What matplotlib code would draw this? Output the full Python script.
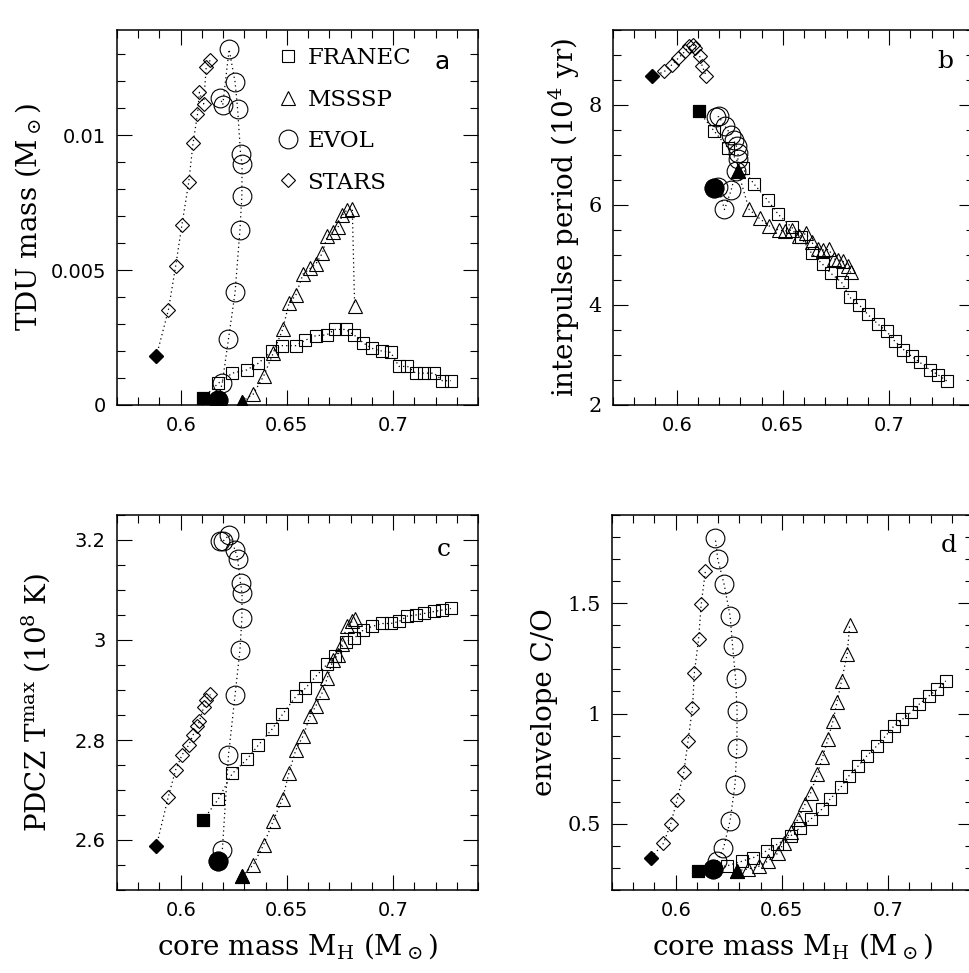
import matplotlib
matplotlib.use('Agg')
from matplotlib import pyplot as plt
from matplotlib.ticker import MultipleLocator, FormatStrFormatter
from matplotlib.lines import Line2D

plt.rcParams['mathtext.fontset'] = 'dejavuserif'

# core mass of each pulse (Msun), one array per code
franec_mc = [0.6105, 0.6176, 0.6243, 0.6311, 0.6366, 0.6429, 0.6479, 0.6542, 0.6586,
             0.6636, 0.6688, 0.6727, 0.6777, 0.6816, 0.6860, 0.6900, 0.6947, 0.6989,
             0.7028, 0.7068, 0.7107, 0.7146, 0.7193, 0.7232, 0.7272]
msssp_mc = [0.6288, 0.6341, 0.6390, 0.6436, 0.6480, 0.6510, 0.6542, 0.6576, 0.6609,
            0.6636, 0.6667, 0.6691, 0.6717, 0.6741, 0.6760, 0.6781, 0.6808, 0.6819]
evol_mc = [0.6177, 0.6196, 0.6225, 0.6256, 0.6279, 0.6288, 0.6289, 0.6282, 0.6268,
           0.6256, 0.6228, 0.6198, 0.6186]
stars_mc = [0.5885, 0.5942, 0.5976, 0.6006, 0.6038, 0.6058, 0.6079, 0.6088, 0.6108,
            0.6120, 0.6140]

# a: TDU mass (Msun)
franec_tdu = [0.00025, 0.0008, 0.00118, 0.0013, 0.00155, 0.0020, 0.0022, 0.0022, 0.0024,
              0.00257, 0.0026, 0.0028, 0.0028, 0.0026, 0.0023, 0.0021, 0.0020, 0.00195,
              0.00143, 0.00143, 0.00118, 0.00118, 0.00118, 0.0009, 0.0009]
msssp_tdu = [0.00012, 0.0004, 0.00106, 0.00193, 0.0028, 0.00377, 0.00407, 0.00485, 0.00506,
             0.00522, 0.00563, 0.00628, 0.0064, 0.00659, 0.00703, 0.00721, 0.00728, 0.00367]
evol_tdu = [0.0002, 0.00083, 0.00245, 0.00417, 0.00649, 0.00775, 0.00893, 0.00929, 0.01097,
            0.01197, 0.01318, 0.01113, 0.01138]
stars_tdu = [0.0018, 0.00352, 0.00514, 0.00669, 0.00827, 0.0097, 0.01078, 0.01159, 0.01116,
             0.01252, 0.0128]

# b: interpulse period (1e4 yr)
franec_ip = [7.87, 7.48, 7.13, 6.73, 6.41, 6.09, 5.81, 5.55, 5.35, 5.03, 4.81, 4.63, 4.45,
             4.15, 4.00, 3.81, 3.62, 3.47, 3.27, 3.11, 2.97, 2.85, 2.70, 2.60, 2.48]
msssp_ip = [6.68, 5.91, 5.73, 5.58, 5.50, 5.48, 5.50, 5.37, 5.43, 5.25, 5.12, 5.10, 5.11,
            4.92, 4.90, 4.88, 4.78, 4.65]
evol_ip = [6.33, 6.35, 5.91, 6.29, 6.67, 6.91, 7.03, 7.17, 7.30, 7.40, 7.57, 7.77, 7.75]
stars_ip = [8.57, 8.67, 8.80, 8.93, 9.07, 9.17, 9.20, 9.13, 8.98, 8.78, 8.57]

# c: PDCZ Tmax (1e8 K)
franec_tmax = [2.640, 2.681, 2.733, 2.761, 2.790, 2.821, 2.851, 2.887, 2.903, 2.927, 2.951,
               2.967, 2.997, 3.003, 3.020, 3.027, 3.033, 3.033, 3.037, 3.048, 3.050, 3.053,
               3.057, 3.060, 3.063]
msssp_tmax = [2.527, 2.550, 2.590, 2.639, 2.683, 2.735, 2.780, 2.808, 2.847, 2.868, 2.895,
              2.925, 2.960, 2.970, 2.993, 3.027, 3.037, 3.041]
evol_tmax = [2.557, 2.580, 2.770, 2.890, 2.980, 3.043, 3.093, 3.113, 3.163, 3.180, 3.210,
             3.197, 3.199]
stars_tmax = [2.587, 2.687, 2.740, 2.770, 2.790, 2.810, 2.827, 2.838, 2.865, 2.880, 2.891]

# d: envelope C/O
franec_co = [0.287, 0.300, 0.310, 0.330, 0.347, 0.378, 0.408, 0.446, 0.483, 0.521, 0.566,
             0.612, 0.665, 0.718, 0.763, 0.808, 0.853, 0.899, 0.944, 0.974, 1.005, 1.042,
             1.080, 1.110, 1.148]
msssp_co = [0.287, 0.295, 0.307, 0.332, 0.366, 0.415, 0.465, 0.523, 0.589, 0.642, 0.725,
            0.801, 0.884, 0.967, 1.054, 1.148, 1.272, 1.400]
evol_co = [0.295, 0.332, 0.390, 0.514, 0.675, 0.846, 1.012, 1.159, 1.304, 1.443, 1.586,
           1.699, 1.798]
stars_co = [0.347, 0.411, 0.498, 0.607, 0.733, 0.876, 1.027, 1.186, 1.340, 1.495, 1.647]

codes = ['FRANEC', 'MSSSP', 'EVOL', 'STARS']
markers = {'FRANEC': ('s', 8.5), 'MSSSP': ('^', 10), 'EVOL': ('o', 13.5), 'STARS': ('D', 7.5)}
core = {'FRANEC': franec_mc, 'MSSSP': msssp_mc, 'EVOL': evol_mc, 'STARS': stars_mc}

panels = [
    ('a', {'FRANEC': franec_tdu, 'MSSSP': msssp_tdu, 'EVOL': evol_tdu, 'STARS': stars_tdu},
     (0, 0.0139), 0.005, 0.001, r'TDU mass (M$_\odot$)', -0.205),
    ('b', {'FRANEC': franec_ip, 'MSSSP': msssp_ip, 'EVOL': evol_ip, 'STARS': stars_ip},
     (2, 9.5), 2, 0.5, r'interpulse period (10$^4$ yr)', -0.085),
    ('c', {'FRANEC': franec_tmax, 'MSSSP': msssp_tmax, 'EVOL': evol_tmax, 'STARS': stars_tmax},
     (2.5, 3.25), 0.2, 0.05, r'PDCZ T$^{\mathrm{max}}$ (10$^8$ K)', -0.18),
    ('d', {'FRANEC': franec_co, 'MSSSP': msssp_co, 'EVOL': evol_co, 'STARS': stars_co},
     (0.2, 1.9), 0.5, 0.1, 'envelope C/O', -0.15),
]

W, H = 969, 973
fig = plt.figure(figsize=(W / 100, H / 100), dpi=100)
boxes = {'a': (117, 30), 'b': (613, 30), 'c': (117, 515), 'd': (612, 515)}
aw, ah = 361, 375

for letter, ydata, ylim, major, minor, ylabel, labx in panels:
    x0, y0 = boxes[letter]
    ax = fig.add_axes([x0 / W, 1 - (y0 + ah) / H, aw / W, ah / H])

    for code in codes:
        m, ms = markers[code]
        ax.plot(core[code], ydata[code], ls=(0, (1, 2.5)), lw=0.9, color='black',
                marker=m, ms=ms, mfc='none', mec='black', mew=0.8)
        # first pulse drawn filled
        ax.plot(core[code][0], ydata[code][0], ls='none', marker=m, ms=ms,
                mfc='black', mec='black', mew=0.8)

    ax.set_xlim(0.57, 0.74)
    ax.set_ylim(*ylim)
    ax.xaxis.set_major_locator(MultipleLocator(0.05))
    ax.xaxis.set_minor_locator(MultipleLocator(0.01))
    ax.yaxis.set_major_locator(MultipleLocator(major))
    ax.yaxis.set_minor_locator(MultipleLocator(minor))
    ax.xaxis.set_major_formatter(FormatStrFormatter('%g'))
    ax.yaxis.set_major_formatter(FormatStrFormatter('%g'))
    ax.tick_params(which='both', direction='in', top=True, right=True, width=0.8)
    ax.tick_params(which='major', length=11, pad=8)
    ax.tick_params(which='minor', length=5.5)
    for lab in ax.get_xticklabels():
        lab.set_fontfamily('DejaVu Sans')
        lab.set_fontsize(14)
    for lab in ax.get_yticklabels():
        if letter in ('b', 'd'):
            lab.set_fontfamily('DejaVu Serif')
            lab.set_fontsize(15)
        else:
            lab.set_fontfamily('DejaVu Sans')
            lab.set_fontsize(14)
    for sp in ax.spines.values():
        sp.set_linewidth(1.1)

    ax.set_ylabel(ylabel, fontsize=20, family='DejaVu Serif')
    ax.yaxis.set_label_coords(labx, 0.5)
    if letter in ('c', 'd'):
        ax.set_xlabel(r'core mass M$_{\mathrm{H}}$ (M$_\odot$)', fontsize=20,
                      family='DejaVu Serif')
        ax.xaxis.set_label_coords(0.5, -0.11)

    if letter == 'a':
        ax.text(0.9, 0.915, letter, transform=ax.transAxes, ha='center', va='center',
                fontsize=18, family='DejaVu Sans')
        handles = [Line2D([], [], ls='none', marker=markers[c][0], ms=markers[c][1],
                          mfc='none', mec='black', mew=0.8) for c in codes]
        ax.legend(handles, codes, loc='upper left', bbox_to_anchor=(0.41, 0.985),
                  frameon=False, borderpad=0, handlelength=1.0, handletextpad=0.35,
                  labelspacing=0.85, prop={'family': 'DejaVu Serif', 'size': 16.5})
    else:
        pos = {'b': (0.92, 0.915), 'c': (0.906, 0.907), 'd': (0.933, 0.92)}[letter]
        ax.text(pos[0], pos[1], letter, transform=ax.transAxes, ha='center', va='center',
                fontsize=18, family='DejaVu Serif')

plt.savefig('out.png', dpi=100)
